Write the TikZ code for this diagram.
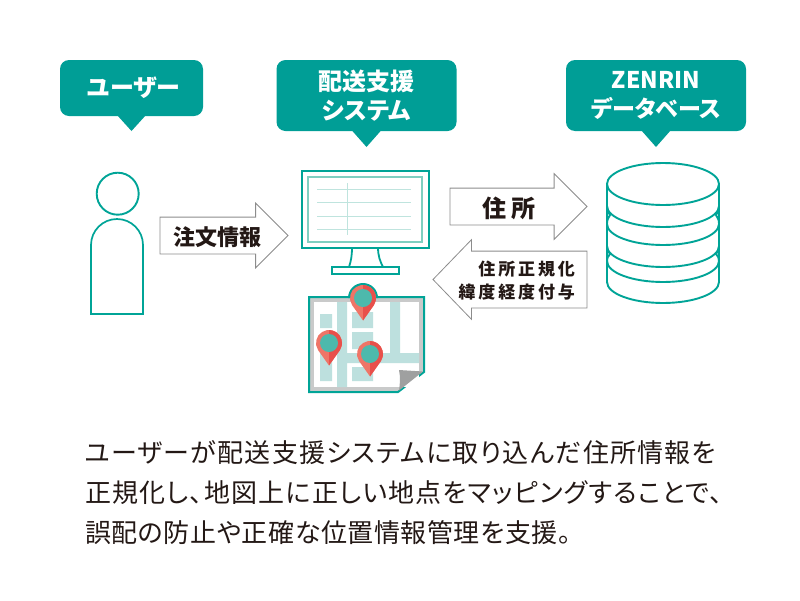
\documentclass[tikz,border=0pt]{standalone}
\usepackage{fontspec}
\setmainfont[RawFeature=+palt]{Noto Sans CJK JP}
\newfontfamily\labelfont[LetterSpace=17]{Noto Sans CJK JP}
\newfontfamily\captionfont[RawFeature=+palt,LetterSpace=4.8]{Noto Sans CJK JP}
\newfontfamily\captionshortfont[RawFeature=+palt,LetterSpace=2.2]{Noto Sans CJK JP}
\usetikzlibrary{calc,shapes.arrows}
\definecolor{zteal}{HTML}{009E96}
\definecolor{zframe}{HTML}{00A497}
\definecolor{zscreen}{HTML}{7FCFC1}
\definecolor{zgrid}{HTML}{BFE4DE}
\definecolor{zroad}{HTML}{BDE0DE}
\definecolor{zpaper}{HTML}{C9CACA}
\definecolor{zfold}{HTML}{9FA0A0}
\definecolor{zpinl}{HTML}{EF7567}
\definecolor{zpinr}{HTML}{E8504B}
\definecolor{zpinc}{HTML}{4DB9AC}
\definecolor{zink}{HTML}{231815}

\begin{document}
\begin{tikzpicture}[
 x=1pt,y=-1pt,
 inner sep=0pt,
 outer sep=0pt,
 align=center,
 balloon/.style={fill=zteal,rounded corners=9pt,text=white,font=\fontsize{24}{29}\selectfont\bfseries},
 person/.style={draw=zframe,line width=1.9pt,fill=white},
 monitor/.style={draw=zframe,line width=2pt,fill=white},
 disc/.style={draw=zframe,line width=1.9pt,fill=white},
 blockarrow/.style={draw=black!45,line width=0.8pt,fill=white,single arrow,single arrow head indent=0pt,single arrow tip angle=90,anchor=tail},
 arrowtext/.style={text=zink,font=\bfseries}
]
\useasboundingbox (0,0) rectangle (800,600);

\node (user-balloon) [balloon,minimum width=143pt,minimum height=56pt] at (131.5,88) {\hspace{5pt}ユーザー};
\fill [zteal] ($(user-balloon.south)+(-14.5,-1)$) -- +(14.5,16) -- +(29,0) -- cycle;
\node (system-balloon) [balloon,minimum width=180pt,minimum height=71pt] at (366.5,95.5) {配送支援\\システム};
\fill [zteal] ($(system-balloon.south)+(-15,-1)$) -- +(15,17) -- +(30,0) -- cycle;
\node (zenrin-balloon) [balloon,font=\fontsize{23}{29}\selectfont\bfseries,minimum width=180pt,minimum height=71pt] at (656,95.5) {ZENRIN\\データベース};
\fill [zteal] ($(zenrin-balloon.south)+(-15,-1)$) -- +(15,17) -- +(30,0) -- cycle;

\draw [person] (117.7,193.7) circle (21);
\draw [person,line width=1.7pt] (91,314) -- (91,245) arc (180:360:26) -- (143,314) -- cycle;

\node (order-arrow) [blockarrow,minimum height=128pt,minimum width=64pt,inner ysep=18pt,single arrow head extend=14pt] at (160,235.5) {};
\node (order-text) [arrowtext,font=\fontsize{22}{26}\selectfont\bfseries] at (217,237) {注文情報};
\node (address-arrow) [blockarrow,minimum height=137pt,minimum width=65pt,inner ysep=18pt,single arrow head extend=14.5pt] at (450,206.5) {};
\node (address-text) [arrowtext,font=\fontsize{24}{28}\selectfont\bfseries] at (509,208) {住\hspace{5pt}所};
\node (latlon-arrow) [blockarrow,minimum height=154pt,minimum width=79pt,inner ysep=28pt,single arrow head extend=11.5pt,single arrow tip angle=92,shape border rotate=180] at (587,279.5) {};
\node (latlon-text) [text=zink,anchor=east,align=right,font=\fontsize{17}{23}\labelfont\bfseries] at (575,280.5) {住所正規化\\緯度経度付与};

\draw [monitor,line width=1.8pt] (352,247) .. controls (352,256) and (351,261) .. (349,267);
\draw [monitor,line width=1.8pt] (378,247) .. controls (378,256) and (380,261) .. (383,267);
\draw [monitor] (302,171) rectangle (429,248);
\draw [zscreen,line width=1.6pt] (308,177) rectangle (422,242);
\draw [zgrid,line width=0.8pt] (317,189) -- (411,189) (317,202) -- (411,202) (317,216) -- (411,216) (317,229) -- (411,229) (347,183) -- (347,235);
\draw [monitor,line width=1.8pt] (332,267) rectangle (399,274);

\draw [draw=zframe,fill=zpaper,line width=2pt] (309,297) -- (424,297) -- (424,372) -- (398,392) -- (309,392) -- cycle;
\fill [white] (314,302) rectangle (419,387);
\fill [zroad] (337,302) rectangle (347,387) (390,302) rectangle (400,353) (347,353) rectangle (419,363)
 (320,314) rectangle (332,328) (320,340) rectangle (332,381)
 (352,312) rectangle (373,328) (352,332) rectangle (373,349) (352,367) rectangle (373,381);
\fill [zpaper] (419,364) rectangle (423,372);
\fill [zfold] (399,370) -- (423,371.5) -- (399,390.5) .. controls (400,384) and (400.5,377) .. cycle;

\fill [zframe] (348,298) arc (180:360:15) -- cycle;
\foreach \pinx/\piny in {363/298,329/343,370/354} {
 \fill [zpinl] (\pinx,\piny+22.5) -- ($(\pinx,\piny)+(147:13)$) arc (147:393:13) -- cycle;
 \fill [zpinr] (\pinx,\piny+22.5) -- ($(\pinx,\piny)+(33:13)$) arc (33:-90:13) -- cycle;
 \fill [zpinc] (\pinx,\piny) circle (9);
}

\draw [disc] (607,262) .. controls (607,258) and (608,256) .. (610,254) .. controls (608,252) and (607,249) .. (607,246) -- (607,282) arc (180:0:56 and 21) -- (719,246) .. controls (719,249) and (718,252) .. (716,254) .. controls (718,256) and (719,258) .. (719,261);
\draw [disc] (607,224) .. controls (607,220) and (608,218) .. (610,215) .. controls (608,213) and (607,210) .. (607,206) -- (607,246) arc (180:0:56 and 21) -- (719,206) .. controls (719,210) and (718,213) .. (716,215) .. controls (718,218) and (719,220) .. (719,224);
\draw [disc] (607,184) -- (607,206) arc (180:0:56 and 21) -- (719,184);
\draw [disc] (663,184) ellipse (56 and 21);
\draw [disc,fill=none] (607,224) arc (180:0:56 and 21);
\draw [disc,fill=none] (607,261) arc (180:0:56 and 21);

\node (caption-text) [anchor=north west,align=left,text=zink,font=\fontsize{26}{40}\captionfont] at (85,440) {ユーザーが配送支援システムに取り込んだ住所情報を\\正規化し、地図上に正しい地点をマッピングすることで、\\{\captionshortfont 誤配の防止や正確な位置情報管理を支援。}};
\end{tikzpicture}
\end{document}
